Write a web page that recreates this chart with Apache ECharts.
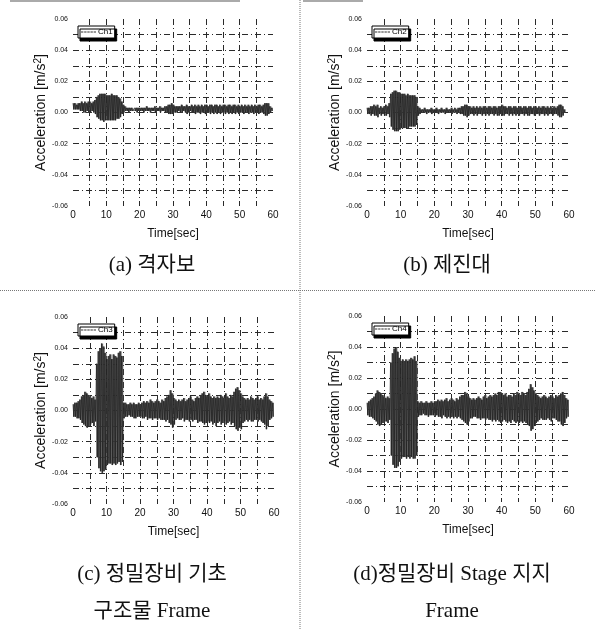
<!DOCTYPE html>
<html>
<head>
<meta charset="utf-8">
<style>
  html, body { margin: 0; padding: 0; background: #fff; }
  #chart { width: 596px; height: 629px; }
</style>
<script src="https://cdn.jsdelivr.net/npm/echarts@6/dist/echarts.min.js"></script>
</head>
<body>
<div id="chart"></div>
<script>
// Acceleration records of four measuring points, 0–60 s.
// Each entry is the [positive peak, negative peak] over a 0.5 s window,
// stored in units of 1e-3 m/s².
const UNIT = 0.001;
const WINDOW = 0.5; // seconds per envelope entry

const channelNames = ['Ch1', 'Ch2', 'Ch3', 'Ch4'];
const captions = [
  ['(a) 격자보'],
  ['(b) 제진대'],
  ['(c) 정밀장비 기초', '구조물 Frame'],
  ['(d)정밀장비 Stage 지지', 'Frame']
];

const ch1Peaks = [
  [6,2],[6,2],[5,2],[6,2],
  [6,1],[7,1],[6,0],[7,0],[6,1],[7,0],[7,0],[6,1],[7,0],[8,-1],
  [10,-3],[11,-4],[12,-5],[12,-5],[12,-6],[12,-5],[11,-5],[11,-5],[11,-5],[12,-5],[11,-5],[11,-5],[11,-4],[10,-4],[9,-3],[7,-1],[5,0],
  [4,1],[3,1],[3,0],[3,1],[3,1],[2,1],[3,1],[3,0],[3,1],[3,1],[3,1],[3,0],[3,1],[4,1],[3,1],[3,0],[3,1],[3,1],[4,0],[3,1],[3,1],[4,0],[3,1],[3,1],[4,0],
  [4,0],[5,-1],[5,-1],[6,-1],[5,0],[4,0],[4,0],[4,1],
  [4,0],[5,0],[4,1],[4,0],[5,-1],[4,0],[4,1],[5,0],[4,0],[5,-1],
  [4,0],[5,0],[4,-1],[5,0],[4,0],[5,-1],[5,0],[4,0],[5,-1],[5,0],
  [4,-1],[5,0],[5,-1],[4,0],[5,-1],[4,0],[5,0],[5,-1],[4,0],[5,-1],
  [5,0],[4,-1],[5,0],[5,-1],[4,0],[5,-1],[4,0],[5,0],[4,-1],[5,0],
  [4,0],[5,-1],[4,0],[5,0],[4,-1],[5,0],[4,0],[5,-1],[5,0],[4,0],
  [5,-1],[6,-2],[6,-2],[6,-1],[4,0],[3,1]
];

const ch2Peaks = [
  [3,-1],[3,-1],[4,-2],[4,-1],[5,-2],[4,-2],[5,-3],[3,-1],[4,-2],[3,-1],[4,-2],[5,-2],[4,-1],[6,-3],
  [12,-9],[13,-11],[14,-12],[14,-12],[13,-12],[13,-11],[12,-10],[12,-10],[12,-10],[11,-10],[12,-10],[11,-9],[11,-9],[11,-9],[11,-9],[10,-8],[4,-2],
  [3,-1],[2,0],[2,0],[3,0],[2,-1],[2,0],[2,0],[3,-1],[2,0],[2,0],[3,0],[2,-1],[2,0],[3,0],[2,0],[2,-1],[3,0],[2,0],[2,0],[3,-1],[2,0],[3,0],[2,-1],[3,0],[3,-1],
  [4,-1],[4,-2],[5,-2],[5,-3],[4,-2],[4,-1],[3,-1],[4,-2],
  [3,-1],[4,-2],[3,-1],[4,-1],[3,-2],[4,-1],[4,-2],[3,-1],[4,-2],[4,-1],
  [3,-1],[4,-2],[4,-1],[3,-2],[4,-2],[4,-1],[5,-2],[4,-2],[4,-1],[3,-1],
  [4,-2],[4,-1],[3,-2],[4,-1],[4,-2],[3,-1],[4,-2],[4,-1],[3,-1],[4,-2],
  [4,-1],[3,-2],[4,-2],[4,-1],[3,-1],[4,-2],[4,-1],[3,-1],[4,-2],[3,-1],
  [4,-1],[4,-2],[3,-1],[4,-2],[3,-1],[4,-1],[3,-2],[4,-1],[3,-1],[4,-2],
  [5,-3],[5,-3],[4,-2],[2,0]
];

const ch3Peaks = [
  [4,-4],[5,-4],[5,-5],[6,-5],[7,-6],
  [9,-8],[10,-9],[12,-10],[11,-11],[10,-10],[9,-9],[8,-8],[9,-10],[7,-7],
  [30,-30],[38,-37],[40,-39],[43,-40],[41,-39],[37,-38],[33,-35],[35,-34],[36,-34],[33,-35],[36,-34],[35,-35],[34,-34],[37,-33],[38,-35],[35,-33],[5,-5],
  [5,-4],[4,-4],[4,-3],[5,-4],[4,-4],[5,-5],[4,-5],[4,-4],[5,-4],[4,-4],
  [5,-5],[6,-5],[5,-4],[6,-6],[5,-5],[7,-5],[6,-6],[5,-5],[6,-5],[7,-6],[6,-5],[5,-6],[7,-6],[6,-6],[8,-7],[9,-6],
  [10,-8],[13,-9],[11,-11],[8,-9],[7,-6],[6,-5],[7,-6],
  [6,-6],[7,-5],[8,-7],[6,-6],[7,-6],[8,-7],[9,-6],[7,-7],[6,-6],[8,-6],[9,-8],[8,-7],
  [10,-7],[11,-8],[12,-9],[10,-8],[9,-7],[11,-8],[9,-7],[8,-9],[9,-8],
  [8,-10],[9,-8],[8,-7],[10,-9],[9,-8],[8,-7],[11,-9],[9,-8],[8,-7],[10,-9],[9,-8],
  [12,-10],[14,-12],[15,-13],[13,-11],[11,-12],[9,-8],[8,-7],
  [7,-6],[8,-7],[7,-6],[9,-7],[8,-7],[7,-6],[8,-6],[9,-7],[7,-6],[8,-7],[7,-8],[9,-9],
  [11,-12],[9,-10],[7,-6],[6,-5],[5,-4]
];

const ch4Peaks = [
  [4,-4],[5,-5],[6,-5],[7,-6],[8,-7],
  [10,-8],[12,-10],[11,-11],[10,-10],[9,-9],[8,-8],[7,-8],[8,-9],[7,-7],
  [30,-30],[36,-36],[39,-38],[40,-38],[37,-37],[33,-34],[31,-32],[32,-31],[31,-31],[32,-32],[31,-31],[32,-32],[33,-31],[32,-32],[34,-32],[31,-30],[5,-5],
  [4,-4],[5,-4],[4,-3],[4,-4],[5,-4],[4,-5],[4,-4],[5,-4],[4,-4],[5,-5],
  [5,-4],[6,-5],[5,-5],[6,-6],[5,-4],[6,-5],[7,-6],[5,-5],[6,-6],[7,-5],[6,-6],[5,-5],[7,-6],[6,-5],[8,-6],[9,-7],
  [9,-8],[11,-9],[10,-10],[8,-8],[7,-6],[6,-6],[7,-5],
  [6,-5],[7,-6],[8,-6],[7,-7],[6,-6],[8,-6],[9,-7],[7,-6],[8,-7],[9,-7],[8,-8],[9,-7],
  [10,-8],[9,-7],[11,-8],[11,-9],[10,-8],[9,-7],[10,-8],[8,-9],[9,-8],
  [9,-9],[8,-7],[10,-8],[9,-9],[11,-8],[10,-9],[9,-8],[11,-9],[10,-8],[9,-9],[11,-10],
  [13,-11],[16,-14],[14,-13],[12,-11],[10,-9],[9,-8],[8,-7],
  [7,-6],[8,-7],[9,-7],[8,-7],[7,-6],[8,-7],[9,-8],[8,-6],[7,-6],[9,-7],[8,-8],[9,-8],
  [10,-10],[11,-11],[9,-9],[7,-6],[6,-5]
];

const channelPeaks = [ch1Peaks, ch2Peaks, ch3Peaks, ch4Peaks];

// Axis ticks
const timeMin = 0, timeMax = 60, timeStep = 5, timeLabelStep = 10;
const accMin = -0.06, accMax = 0.06, accStep = 0.01, accLabelStep = 0.02;

// Panel plot areas (left, top, width, height) and caption anchors
const panels = [
  { left: 73,  top: 19,  width: 200, height: 187, capX: 152, capY: [265] },
  { left: 367, top: 19,  width: 202, height: 187, capX: 447, capY: [265] },
  { left: 73,  top: 317, width: 201, height: 187, capX: 152, capY: [574, 611] },
  { left: 367, top: 316, width: 202, height: 186, capX: 452, capY: [574, 611] }
];

// Each window contributes its positive then its negative peak, so the
// trace swings between the two like the recorded oscillation.
function traceFromPeaks(peaks) {
  const pts = [];
  peaks.forEach((p, i) => {
    const t = i * WINDOW;
    pts.push([t, p[0] * UNIT]);
    pts.push([t + WINDOW / 2, p[1] * UNIT]);
  });
  return pts;
}
// Window rows [start time, positive peak, negative peak] for the shaded band
function bandRows(peaks) {
  return peaks.map((p, i) => [i * WINDOW, p[0] * UNIT, p[1] * UNIT]);
}
// One shaded block per window, spanning its peak-to-peak range
function renderBand(params, api) {
  const t = api.value(0);
  const a = api.coord([t, api.value(1)]);
  const b = api.coord([t + WINDOW, api.value(2)]);
  return {
    type: 'rect',
    shape: { x: a[0], y: a[1], width: b[0] - a[0], height: b[1] - a[1] },
    style: { fill: '#5c5c5c' }
  };
}

const gridLine = { color: '#2a2a2a', width: 1, type: [6, 3, 1, 3] };
const tickFont = 'Liberation Sans';
const dashedIcon = 'path://M0 0h3v1h-3zM4 0h3v1h-3zM8 0h3v1h-3zM12 0h3v1h-3zM16 0h3v1h-3z';

const grids = [], xAxes = [], yAxes = [], series = [], legends = [], graphics = [];

panels.forEach((p, k) => {
  grids.push({ left: p.left, top: p.top, width: p.width, height: p.height });

  xAxes.push({
    type: 'value', gridIndex: k, min: timeMin, max: timeMax, interval: timeStep,
    name: 'Time[sec]', nameLocation: 'middle', nameGap: 22,
    nameTextStyle: { fontFamily: tickFont, fontSize: 12, color: '#111' },
    axisLine: { show: false }, axisTick: { show: false },
    axisLabel: {
      fontFamily: tickFont, fontSize: 10, color: '#111', margin: 4,
      formatter: v => (Math.round(v) % timeLabelStep === 0 ? String(Math.round(v)) : '')
    },
    splitLine: { show: true, showMinLine: false, showMaxLine: false, lineStyle: gridLine }
  });

  yAxes.push({
    type: 'value', gridIndex: k, min: accMin, max: accMax, interval: accStep,
    name: '{n|Acceleration [m/s}{s|2}{n|]}', nameLocation: 'middle', nameGap: 21, nameRotate: 90,
    nameTextStyle: {
      rich: {
        n: { fontFamily: tickFont, fontSize: 14, color: '#111' },
        s: { fontFamily: tickFont, fontSize: 10, color: '#111', verticalAlign: 'top', padding: [0, 0, 5, 0] }
      }
    },
    axisLine: { show: false }, axisTick: { show: false },
    axisLabel: {
      fontFamily: tickFont, fontSize: 7, color: '#111', margin: 5,
      formatter: v => {
        const m = Math.round(v / accStep);
        return m % Math.round(accLabelStep / accStep) === 0 ? v.toFixed(2) : '';
      }
    },
    splitLine: { show: true, showMinLine: false, showMaxLine: false, lineStyle: gridLine }
  });

  series.push({
    name: channelNames[k] + ' band', type: 'custom', xAxisIndex: k, yAxisIndex: k,
    data: bandRows(channelPeaks[k]), encode: { x: 0, y: [1, 2] },
    renderItem: renderBand, clip: true, silent: true, animation: false
  });
  series.push({
    name: channelNames[k], type: 'line', xAxisIndex: k, yAxisIndex: k,
    data: traceFromPeaks(channelPeaks[k]),
    symbol: 'none', silent: true, animation: false,
    color: '#222',
    lineStyle: { color: '#1e1e1e', width: 0.7 }
  });

  legends.push({
    data: [{ name: channelNames[k], icon: dashedIcon }], left: p.left + 5, top: p.top + 7,
    orient: 'vertical', padding: [2, 2, 2, 3], itemGap: 0,
    itemWidth: 15, itemHeight: 1,
    backgroundColor: '#fff', borderColor: '#000', borderWidth: 1,
    shadowColor: '#000', shadowBlur: 0, shadowOffsetX: 2, shadowOffsetY: 3,
    itemStyle: { color: '#333' },
    textStyle: { fontFamily: tickFont, fontSize: 8, color: '#000', padding: [0, 0, 0, -3] },
    selectedMode: false
  });

  captions[k].forEach((line, j) => {
    graphics.push({
      type: 'text', x: p.capX, y: p.capY[j], silent: true,
      style: {
        text: line, fill: '#111',
        font: '21px "Liberation Serif", "Noto Sans CJK KR"',
        textAlign: 'center', textVerticalAlign: 'middle'
      }
    });
  });
});

// Dotted frame lines separating the four panels
const sepStyle = { stroke: '#777', lineWidth: 1, lineDash: [1, 1] };
graphics.push({ type: 'line', silent: true, shape: { x1: 300, y1: 0, x2: 300, y2: 629 }, style: sepStyle });
graphics.push({ type: 'line', silent: true, shape: { x1: 0, y1: 290.5, x2: 596, y2: 290.5 }, style: sepStyle });
// Ruled edge along the top of the sheet
graphics.push({ type: 'line', silent: true, shape: { x1: 10, y1: 1, x2: 240, y2: 1 }, style: { stroke: '#aaa', lineWidth: 2 } });
graphics.push({ type: 'line', silent: true, shape: { x1: 303, y1: 1, x2: 363, y2: 1 }, style: { stroke: '#aaa', lineWidth: 2 } });

const chart = echarts.init(document.getElementById('chart'), null, { renderer: 'canvas' });
chart.setOption({
  backgroundColor: '#fff',
  animation: false,
  grid: grids,
  xAxis: xAxes,
  yAxis: yAxes,
  legend: legends,
  series: series,
  graphic: graphics
});
</script>
</body>
</html>
